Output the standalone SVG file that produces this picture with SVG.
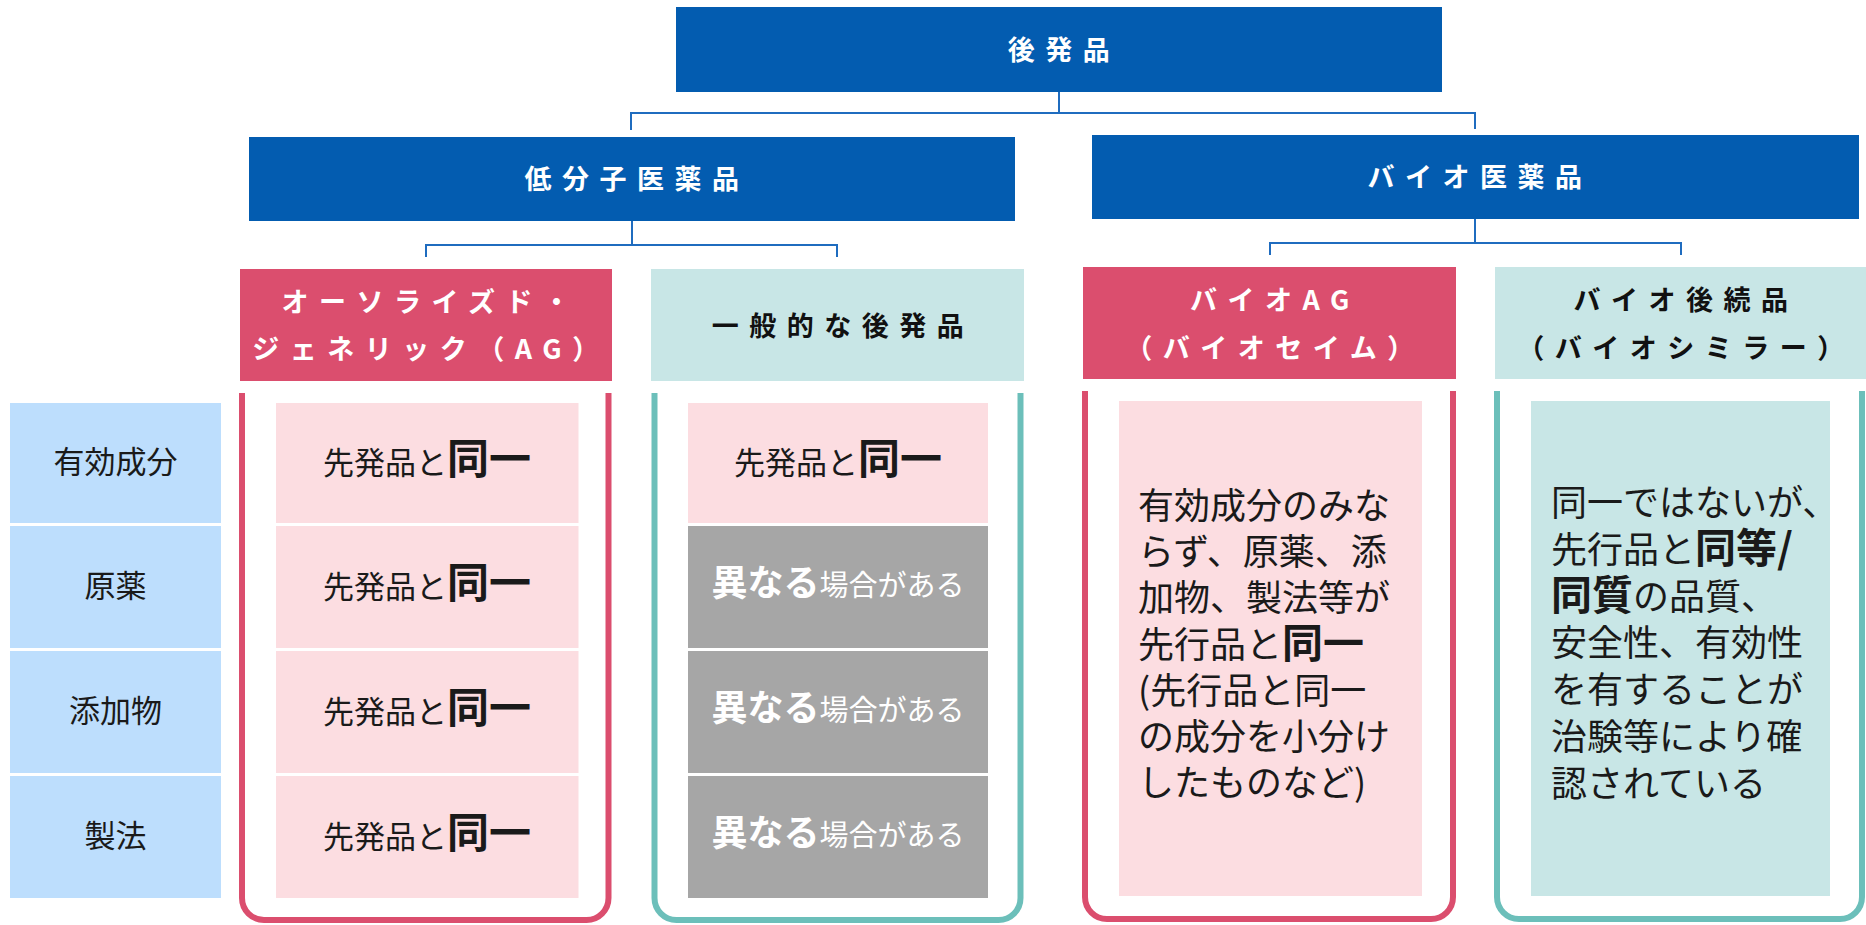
<svg xmlns="http://www.w3.org/2000/svg" width="1866" height="925" viewBox="0 0 1866 925">
<style>
.hd{font-family:"Noto Sans CJK JP","Noto Sans CJK SC",sans-serif;font-weight:700;font-size:27px;letter-spacing:10.5px;text-anchor:middle}
.w{fill:#ffffff}
.k{fill:#111111}
.blue{fill:#035cb0}
.pinkh{fill:#db4e6e}
.tealh{fill:#c8e6e6}
.conn{fill:none;stroke:#1f6cbf;stroke-width:2}
.olp{fill:none;stroke:#db4e6e;stroke-width:6}
.olt{fill:none;stroke:#6cbfba;stroke-width:6}
.lblbox{fill:#bddefd}
.pc{fill:#fcdde1}
.gc{fill:#a6a6a6}
.tc{fill:#c8e6e6}
.t{font-family:"Noto Sans CJK JP","Noto Sans CJK SC",sans-serif;fill:#1a1a1a}
.mid{text-anchor:middle}
.b{font-weight:700}
</style>

<g id="connectors">
<path class="conn" d="M1059,92 V113 M631,130 V113 H1475 V129"/>
<path class="conn" d="M632,221 V245 M426,257 V245 H837 V257"/>
<path class="conn" d="M1475,219 V243 M1270,255 V243 H1681 V255"/>
</g>

<g id="node-kouhatsu">
<rect class="blue" x="676" y="7" width="766" height="85"/>
<text class="hd w" x="1064" y="60">後発品</text>
</g>

<g id="node-teibunshi">
<rect class="blue" x="249" y="137" width="766" height="84"/>
<text class="hd w" x="637" y="189">低分子医薬品</text>
</g>

<g id="node-bio">
<rect class="blue" x="1092" y="135" width="767" height="84"/>
<text class="hd w" x="1480" y="187">バイオ医薬品</text>
</g>

<g id="node-ag">
<rect class="pinkh" x="240" y="269" width="372" height="112"/>
<text class="hd w" x="431" y="312">オーソライズド・</text>
<text class="hd w" x="431" y="359">ジェネリック（AG）</text>
<path class="olp" d="M242,393 V898 A22,22 0 0 0 264,920 H586.5 A22,22 0 0 0 608.5,898 V393"/>
<rect class="pc" x="276" y="403" width="302.5" height="120"/>
<rect class="pc" x="276" y="526" width="302.5" height="122"/>
<rect class="pc" x="276" y="651" width="302.5" height="122"/>
<rect class="pc" x="276" y="776" width="302.5" height="122"/>
<text class="t mid" x="427" y="474"><tspan font-size="31">先発品と</tspan><tspan class="b" font-size="42">同一</tspan></text>
<text class="t mid" x="427" y="598"><tspan font-size="31">先発品と</tspan><tspan class="b" font-size="42">同一</tspan></text>
<text class="t mid" x="427" y="723"><tspan font-size="31">先発品と</tspan><tspan class="b" font-size="42">同一</tspan></text>
<text class="t mid" x="427" y="848"><tspan font-size="31">先発品と</tspan><tspan class="b" font-size="42">同一</tspan></text>
</g>

<g id="node-general">
<rect class="tealh" x="651" y="269" width="373" height="112"/>
<text class="hd k" x="843" y="336">一般的な後発品</text>
<path class="olt" d="M654.5,393 V898 A22,22 0 0 0 676.5,920 H998.5 A22,22 0 0 0 1020.5,898 V393"/>
<rect class="pc" x="688" y="403" width="300" height="120"/>
<rect class="gc" x="688" y="526" width="300" height="122"/>
<rect class="gc" x="688" y="651" width="300" height="122"/>
<rect class="gc" x="688" y="776" width="300" height="122"/>
<text class="t mid" x="838" y="474"><tspan font-size="31">先発品と</tspan><tspan class="b" font-size="42">同一</tspan></text>
<text class="t mid" x="838" y="596" style="fill:#ffffff"><tspan class="b" font-size="36">異なる</tspan><tspan font-size="29">場合がある</tspan></text>
<text class="t mid" x="838" y="721" style="fill:#ffffff"><tspan class="b" font-size="36">異なる</tspan><tspan font-size="29">場合がある</tspan></text>
<text class="t mid" x="838" y="846" style="fill:#ffffff"><tspan class="b" font-size="36">異なる</tspan><tspan font-size="29">場合がある</tspan></text>
</g>

<g id="node-bioag">
<rect class="pinkh" x="1083" y="267" width="373" height="112"/>
<text class="hd w" x="1275" y="310">バイオAG</text>
<text class="hd w" x="1275" y="358">（バイオセイム）</text>
<path class="olp" d="M1085,391 V897 A22,22 0 0 0 1107,919 H1431 A22,22 0 0 0 1453,897 V391"/>
<rect class="pc" x="1119" y="401" width="303" height="495"/>
<g class="t" font-size="36">
<text x="1138" y="519">有効成分のみな</text>
<text x="1138" y="565">らず、原薬、添</text>
<text x="1138" y="611">加物、製法等が</text>
<text x="1138" y="658">先行品と<tspan class="b" font-size="41">同一</tspan></text>
<text x="1138" y="704">(先行品と同一</text>
<text x="1138" y="750">の成分を小分け</text>
<text x="1138" y="796">したものなど)</text>
</g>
</g>

<g id="node-biosimilar">
<rect class="tealh" x="1495" y="267" width="371" height="112"/>
<text class="hd k" x="1686" y="310">バイオ後続品</text>
<text class="hd k" x="1686" y="358">（バイオシミラー）</text>
<path class="olt" d="M1497,391 V897 A22,22 0 0 0 1519,919 H1840 A22,22 0 0 0 1862,897 V391"/>
<rect class="tc" x="1531" y="401" width="299" height="495"/>
<g class="t" font-size="36">
<text x="1551" y="516">同一ではないが、</text>
<text x="1551" y="563">先行品と<tspan class="b" font-size="41">同等/</tspan></text>
<text x="1551" y="610"><tspan class="b" font-size="41">同質</tspan>の品質、</text>
<text x="1551" y="656">安全性、有効性</text>
<text x="1551" y="703">を有することが</text>
<text x="1551" y="750">治験等により確</text>
<text x="1551" y="797">認されている</text>
</g>
</g>

<g id="row-labels">
<g id="label-yuukouseibun">
<rect class="lblbox" x="10" y="403" width="211" height="120"/>
<text class="t mid" x="115.5" y="473" font-size="31">有効成分</text>
</g>
<g id="label-genyaku">
<rect class="lblbox" x="10" y="526" width="211" height="122"/>
<text class="t mid" x="115.5" y="597" font-size="31">原薬</text>
</g>
<g id="label-tenkabutsu">
<rect class="lblbox" x="10" y="651" width="211" height="122"/>
<text class="t mid" x="115.5" y="722" font-size="31">添加物</text>
</g>
<g id="label-seihou">
<rect class="lblbox" x="10" y="776" width="211" height="122"/>
<text class="t mid" x="115.5" y="847" font-size="31">製法</text>
</g>
</g>
</svg>
